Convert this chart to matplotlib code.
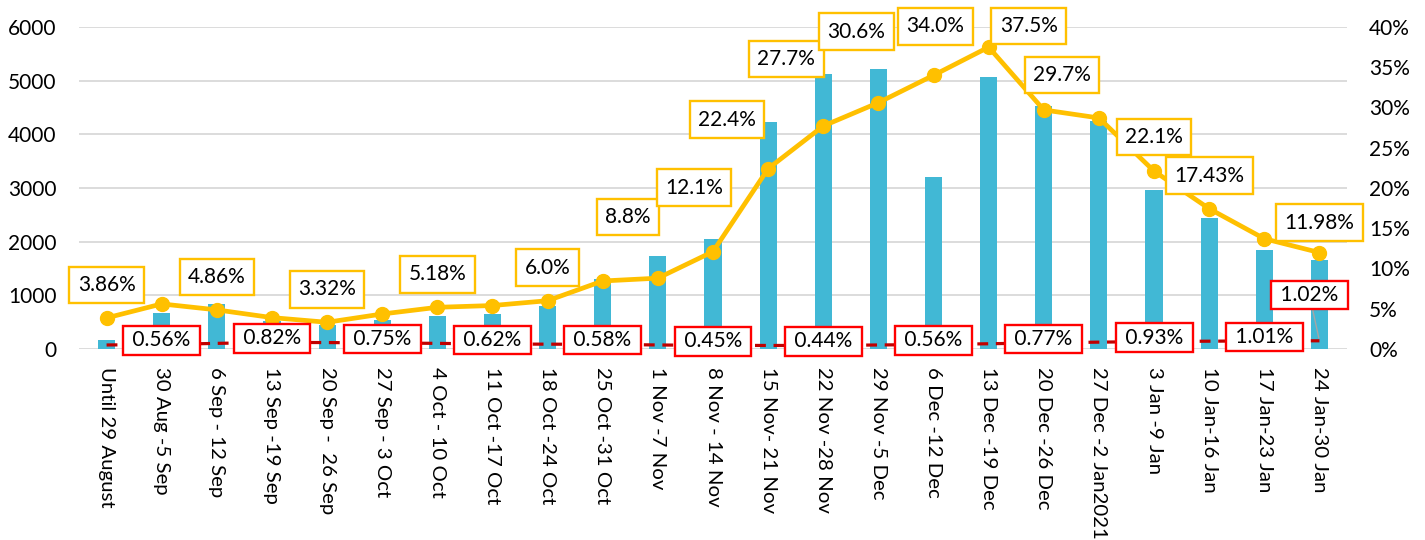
import matplotlib
matplotlib.use("Agg")
import matplotlib.pyplot as plt
import numpy as np

plt.rcParams['font.family'] = ['Lato', 'DejaVu Sans']

categories = ["Until 29 August", "30 Aug -5 Sep", "6 Sep - 12 Sep", "13 Sep -19 Sep",
              "20 Sep -  26 Sep", "27 Sep - 3 Oct", "4 Oct - 10 Oct", "11 Oct -17 Oct",
              "18 Oct -24 Oct", "25 Oct -31 Oct", "1 Nov -7 Nov", "8 Nov - 14 Nov",
              "15 Nov- 21 Nov", "22 Nov -28 Nov", "29 Nov -5 Dec", "6 Dec -12 Dec",
              "13 Dec -19 Dec", "20 Dec -26 Dec", "27 Dec -2 Jan2021", "3 Jan -9 Jan",
              "10 Jan-16 Jan", "17 Jan-23 Jan", "24 Jan-30 Jan"]

cases = [170, 670, 840, 520, 450, 540, 620, 650, 800, 1300, 1740, 2050,
         4230, 5120, 5220, 3210, 5070, 4530, 4250, 2970, 2440, 1850, 1660]

positivity = [3.86, 5.6, 4.86, 3.9, 3.32, 4.35, 5.18, 5.4, 6.0, 8.45, 8.8, 12.1,
              22.4, 27.7, 30.6, 34.0, 37.5, 29.7, 28.7, 22.1, 17.43, 13.7, 11.98]

low_rate = [0.50, 0.56, 0.70, 0.82, 0.80, 0.75, 0.70, 0.62, 0.60, 0.58, 0.50, 0.45,
            0.44, 0.44, 0.50, 0.56, 0.65, 0.77, 0.85, 0.93, 0.97, 1.01, 1.02]

# labels: index -> text
pos_labels = {0: "3.86%", 2: "4.86%", 4: "3.32%", 6: "5.18%", 8: "6.0%", 10: "8.8%",
              11: "12.1%", 12: "22.4%", 13: "27.7%", 14: "30.6%", 15: "34.0%",
              16: "37.5%", 17: "29.7%", 19: "22.1%", 20: "17.43%", 22: "11.98%"}
low_labels = {1: "0.56%", 3: "0.82%", 5: "0.75%", 7: "0.62%", 9: "0.58%", 11: "0.45%",
              13: "0.44%", 15: "0.56%", 17: "0.77%", 19: "0.93%", 21: "1.01%", 22: "1.02%"}

# label offsets (pixels, dx right, dy up)
pos_off = {0: (0, 33), 2: (0, 33), 4: (0, 33), 6: (0, 33), 8: (0, 33), 10: (-30, 61),
           11: (-19, 64), 12: (-41, 49), 13: (-37, 67), 14: (-22, 71), 15: (2, 49),
           16: (40, 21), 17: (18, 35), 19: (0, 34), 20: (0, 33), 22: (0, 30)}
low_off = {k: (0, 4) for k in low_labels}
low_off[22] = (-10, 46)

BAR = '#41B8D5'
YEL = '#FFC000'
RED_LINE = '#C00000'
RED_BOX = '#FF0000'
GRID = '#D9D9D9'

fig = plt.figure(figsize=(14.25, 5.4), dpi=100)
ax = fig.add_axes([79/1425, 1-349/540, (1347-79)/1425, (349-27)/540])
ax2 = ax.twinx()

x = np.arange(len(categories))
ax.bar(x, cases, width=0.31, color=BAR, zorder=2)
ax.set_ylim(0, 6000)
ax.set_xlim(-0.5, len(categories)-0.5)
ax.set_yticks(np.arange(0, 6001, 1000))
ax.grid(axis='y', color=GRID, lw=1.3)
ax.set_axisbelow(True)
ax.set_xticks(x)
ax.set_xticklabels(categories, rotation=270, ha='center', va='top', fontsize=14.7)
ax.tick_params(axis='x', length=0, pad=13)
ax.tick_params(axis='y', length=0, pad=16, labelsize=15)
for s in ax.spines.values():
    s.set_visible(False)
for s in ax2.spines.values():
    s.set_visible(False)

px = 72/100.
pos_frac = [v/100 for v in positivity]
low_frac = [v/100 for v in low_rate]
ax2.plot(x, low_frac, color=RED_LINE, lw=2.3, dashes=(3.4, 2.4), zorder=3)
ax2.plot(x, pos_frac, color=YEL, lw=3.4, marker='o', ms=10, zorder=4)
ax2.set_ylim(0, 0.40)
ax2.set_yticks(np.arange(0, 0.401, 0.05))
ax2.set_yticklabels([f"{int(round(v*100))}%" for v in np.arange(0, 0.401, 0.05)])
ax2.tick_params(axis='y', length=0, pad=16, labelsize=15)

for i, t in pos_labels.items():
    dx, dy = pos_off[i]
    ax2.annotate(t, (x[i], pos_frac[i]), xytext=(dx*px, dy*px), textcoords='offset points',
                 ha='center', va='center', fontsize=15, zorder=6,
                 bbox=dict(boxstyle='square,pad=0.4', fc='white', ec=YEL, lw=1.7))
for i, t in low_labels.items():
    dx, dy = low_off[i]
    arrow = None
    if i == 22:
        arrow = dict(arrowstyle='-', color='#A6A6A6', lw=1, shrinkA=0, shrinkB=2)
    ax2.annotate(" " + t + " ", (x[i], low_frac[i]), xytext=(dx*px, dy*px),
                 textcoords='offset points',
                 ha='center', va='center', fontsize=15, zorder=6, arrowprops=arrow,
                 bbox=dict(boxstyle='square,pad=0.2', fc='white', ec=RED_BOX, lw=1.7))

fig.savefig('out.png', dpi=100)
